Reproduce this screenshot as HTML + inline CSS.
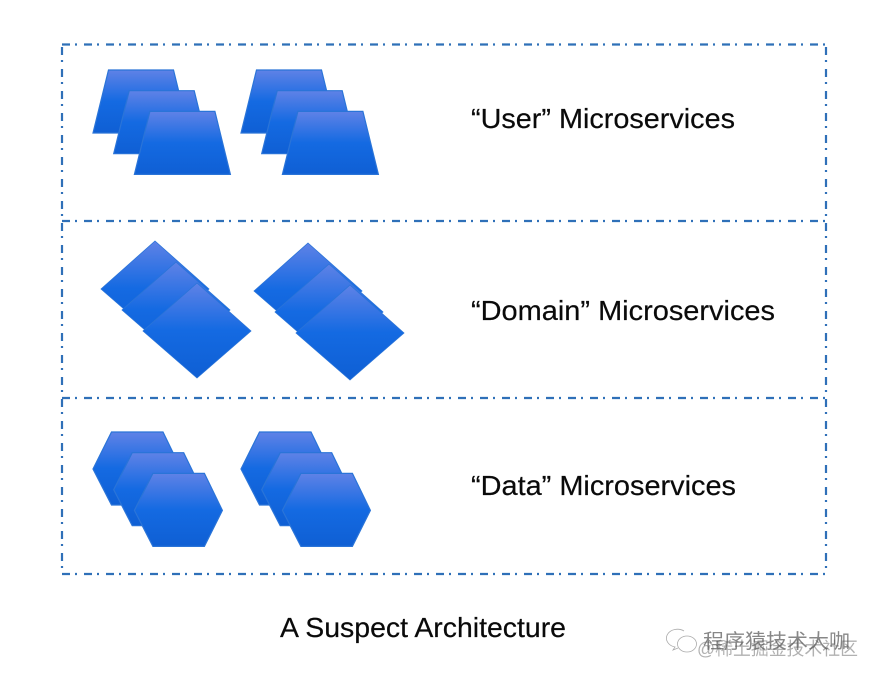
<!DOCTYPE html>
<html>
<head>
<meta charset="utf-8">
<style>
html,body{margin:0;padding:0;background:#fff;width:878px;height:680px;overflow:hidden}
svg{display:block}
.t{font-family:"Liberation Sans",sans-serif;font-size:28px;fill:#0a0a0a;stroke:#0a0a0a;stroke-width:0.2}
.w{font-family:"Liberation Sans","Noto Sans CJK SC",sans-serif;font-size:20px;fill:#555}
</style>
</head>
<body>
<svg width="878" height="680" viewBox="0 0 878 680" xmlns="http://www.w3.org/2000/svg">
<defs>
<linearGradient id="g" x1="0" y1="0" x2="0" y2="1">
<stop offset="0" stop-color="#5f82e6"/>
<stop offset="0.5" stop-color="#146ae2"/>
<stop offset="1" stop-color="#0f5fd4"/>
</linearGradient>
<polygon id="trap" points="108.5,70 173.5,70 189,133 93,133" fill="url(#g)" stroke="#2a74d8" stroke-width="1.2"/>
<polygon id="dia" points="155,241 209,289 155,336 101,289" fill="url(#g)" stroke="#2a74d8" stroke-width="0.8"/>
<polygon id="hex" points="111.5,432 163,432 181,469 163,505 111.5,505 93,469" fill="url(#g)" stroke="#2a74d8" stroke-width="1.2"/>
</defs>
<rect width="878" height="680" fill="#fff"/>

<g fill="none" stroke="#2f70b8" stroke-width="2.2" stroke-dasharray="8 5 2 7">
<line x1="62" y1="44.5" x2="826" y2="44.5"/>
<line x1="62" y1="221" x2="826" y2="221"/>
<line x1="62" y1="398" x2="826" y2="398"/>
<line x1="62" y1="574" x2="826" y2="574"/>
<line x1="62" y1="47" x2="62" y2="574"/>
<line x1="826" y1="47" x2="826" y2="574"/>
</g>

<use href="#trap"/>
<use href="#trap" x="20.7" y="20.7"/>
<use href="#trap" x="41.4" y="41.4"/>
<use href="#trap" x="148"/>
<use href="#trap" x="168.7" y="20.7"/>
<use href="#trap" x="189.4" y="41.4"/>

<use href="#dia"/>
<use href="#dia" x="21" y="21"/>
<use href="#dia" x="42" y="42"/>
<use href="#dia" x="153" y="2"/>
<use href="#dia" x="174" y="23"/>
<use href="#dia" x="195" y="44"/>

<use href="#hex"/>
<use href="#hex" x="20.7" y="20.7"/>
<use href="#hex" x="41.4" y="41.4"/>
<use href="#hex" x="148"/>
<use href="#hex" x="168.7" y="20.7"/>
<use href="#hex" x="189.4" y="41.4"/>

<text class="t" x="471" y="128" textLength="264" lengthAdjust="spacingAndGlyphs">“User” Microservices</text>
<text class="t" x="471" y="320" textLength="304" lengthAdjust="spacingAndGlyphs">“Domain” Microservices</text>
<text class="t" x="471" y="495" textLength="265" lengthAdjust="spacingAndGlyphs">“Data” Microservices</text>
<text class="t" x="280" y="637" textLength="286" lengthAdjust="spacingAndGlyphs">A Suspect Architecture</text>

<g fill="none" stroke="#888" stroke-width="0.8" opacity="0.7">
<path d="M684 631a11 9 0 1 0 -9 16l-2 3 5 -2"/>
<ellipse cx="687" cy="644" rx="9.5" ry="8"/>
</g>
<text class="w" x="703" y="648" textLength="147" lengthAdjust="spacingAndGlyphs" opacity="0.7">程序猿技术大咖</text>
<text class="w" x="697" y="655" textLength="161" lengthAdjust="spacingAndGlyphs" style="font-size:18px" opacity="0.45">@稀土掘金技术社区</text>
</svg>
</body>
</html>
